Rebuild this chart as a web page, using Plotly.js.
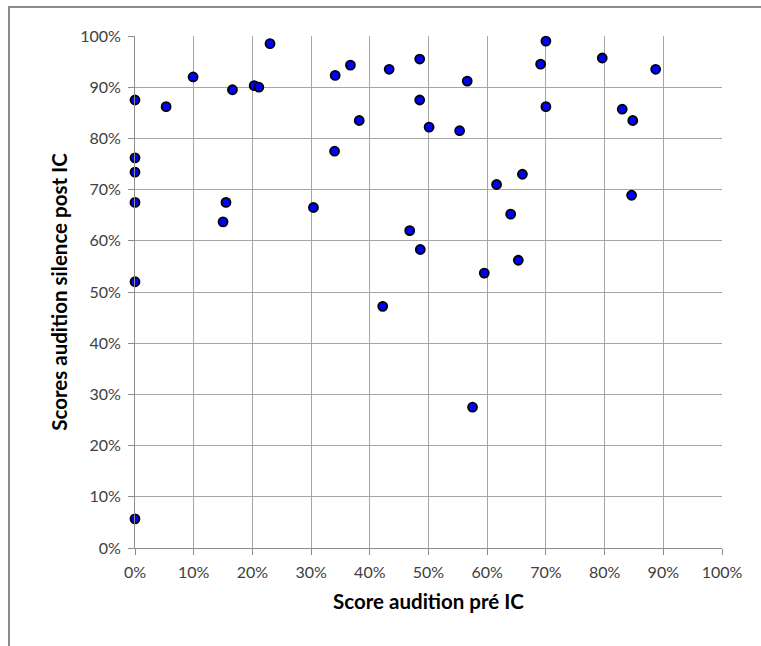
<!DOCTYPE html>
<html>
<head>
<meta charset="utf-8">
<script src="https://cdn.plot.ly/plotly-3.0.1.min.js"></script>
<style>
html,body{margin:0;padding:0;background:#fff;}
#wrap{position:relative;width:761px;height:646px;overflow:hidden;}
#frame{position:absolute;left:8px;top:6px;width:800px;height:700px;border-left:2px solid #8c8c8c;border-top:2px solid #8c8c8c;pointer-events:none;}
#chart{position:absolute;left:0;top:0;width:761px;height:646px;}
</style>
</head>
<body>
<div id="wrap">
<div id="chart"></div>
<div id="frame"></div>
</div>
<script>
// Score audition pré IC (x) and Scores audition silence post IC (y), as fractions
const preIC = [0, 0.053, 0.099, 0.166, 0.203, 0.211, 0.230, 0, 0, 0, 0.155, 0.150, 0.304, 0.340, 0.341, 0.367, 0.382, 0.433, 0.485, 0.485, 0.501, 0.468, 0.486, 0, 0.422, 0, 0.700, 0.691, 0.796, 0.887, 0.566, 0.700, 0.830, 0.848, 0.553, 0.660, 0.616, 0.640, 0.846, 0.653, 0.595, 0.575];
const postIC = [0.875, 0.862, 0.920, 0.895, 0.903, 0.900, 0.985, 0.762, 0.734, 0.675, 0.675, 0.637, 0.665, 0.775, 0.923, 0.943, 0.835, 0.935, 0.955, 0.875, 0.822, 0.620, 0.583, 0.520, 0.472, 0.057, 0.990, 0.945, 0.957, 0.935, 0.912, 0.862, 0.857, 0.835, 0.815, 0.730, 0.710, 0.652, 0.689, 0.562, 0.537, 0.275];
const tickVals = [0, 0.1, 0.2, 0.3, 0.4, 0.5, 0.6, 0.7, 0.8, 0.9, 1.0];
const tickText = ['0%', '10%', '20%', '30%', '40%', '50%', '60%', '70%', '80%', '90%', '100%'];
const xTitle = 'Score audition pré IC';
const yTitle = 'Scores audition silence post IC';

const fontFam = "Lato, 'Open Sans', Arial, sans-serif";
const trace = {
  x: preIC, y: postIC, type: 'scatter', mode: 'markers',
  marker: {size: 9, color: '#0000ff', line: {color: '#000000', width: 1.8}},
  hoverinfo: 'x+y', cliponaxis: false
};
const axisCommon = {
  range: [0, 1], tickvals: tickVals, ticktext: tickText,
  showgrid: true, gridcolor: '#a6a6a6', gridwidth: 1,
  showline: true, linecolor: '#8c8c8c', linewidth: 1,
  ticks: 'outside', ticklen: 6, tickcolor: '#8c8c8c', tickwidth: 1,
  zeroline: false, fixedrange: true,
  tickfont: {family: fontFam, size: 16, color: '#404040'}
};
const layout = {
  width: 761, height: 646,
  margin: {l: 135, r: 39, t: 36, b: 98},
  paper_bgcolor: 'rgba(0,0,0,0)', plot_bgcolor: '#ffffff',
  showlegend: false,
  xaxis: Object.assign({}, axisCommon, {
    ticklabelstandoff: 4,
    title: {text: xTitle, font: {family: fontFam, size: 20.5, color: '#000000', weight: 'bold'}, standoff: 14}
  }),
  yaxis: Object.assign({}, axisCommon, {
    ticklabelstandoff: 4,
    title: {text: yTitle, font: {family: fontFam, size: 20.5, color: '#000000', weight: 'bold'}, standoff: 6}
  })
};
Plotly.newPlot('chart', [trace], layout, {displayModeBar: false, staticPlot: true});
</script>
</body>
</html>
